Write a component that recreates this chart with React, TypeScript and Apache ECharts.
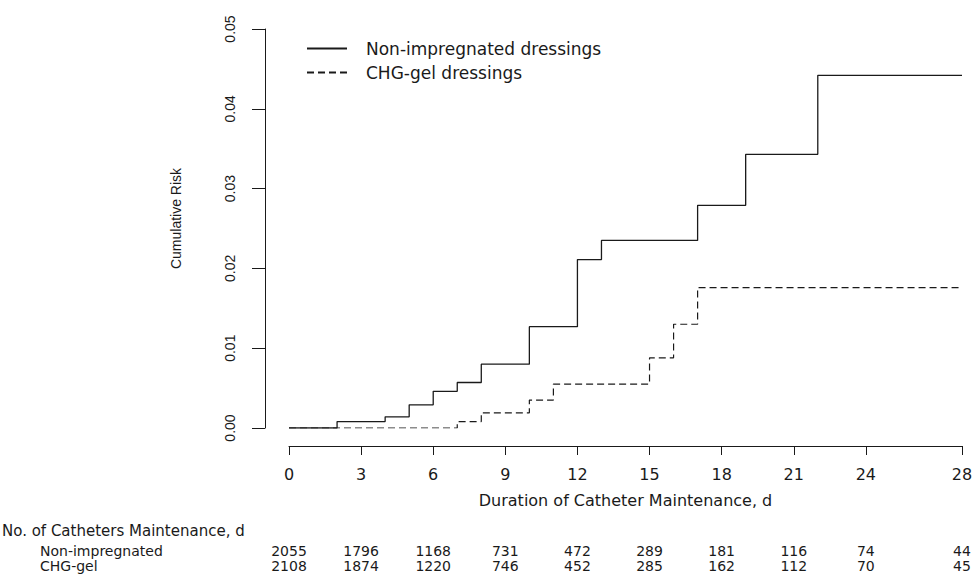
import React, { useEffect, useRef } from "react";
import * as echarts from "echarts";

// ---- data ----
const tickDays = [0, 3, 6, 9, 12, 15, 18, 21, 24, 28];
const nonDays = [0, 2, 4, 5, 6, 7, 8, 10, 12, 13, 17, 19, 22, 28];
const nonRisk = [0, 0.0008, 0.0014, 0.0029, 0.0046, 0.0057, 0.008, 0.0127, 0.0211, 0.0235, 0.0279, 0.0343, 0.0442, 0.0442];
const chgDays = [0, 7, 8, 10, 11, 15, 16, 17, 28];
const chgRisk = [0, 0.0008, 0.0019, 0.0035, 0.0055, 0.0088, 0.013, 0.0176, 0.0176];
const nonAtRisk = [2055, 1796, 1168, 731, 472, 289, 181, 116, 74, 44];
const chgAtRisk = [2108, 1874, 1220, 746, 452, 285, 162, 112, 70, 45];
const seriesNames = ["Non-impregnated dressings", "CHG-gel dressings"];
const rowLabels = ["Non-impregnated", "CHG-gel"];
const tableTitle = "No. of Catheters Maintenance, d";
const xTitle = "Duration of Catheter Maintenance, d";
const yTitle = "Cumulative Risk";

const WIDE = "DejaVu Sans, Liberation Sans, Arial, sans-serif";
const NARROW = "Liberation Sans, Arial, Helvetica, sans-serif";
const INK = "#1a1a1a";

export default function App() {
  const ref = useRef<HTMLDivElement>(null);

  useEffect(() => {
    if (!ref.current) return;
    const chart = echarts.init(ref.current, undefined, { renderer: "svg" });

    const countAxis = (counts: number[], margin: number) => ({
      type: "value",
      gridIndex: 0,
      min: 0,
      max: 28,
      position: "bottom",
      offset: 0,
      axisLine: { show: false, onZero: false },
      axisTick: { show: false },
      splitLine: { show: false },
      axisLabel: {
        show: true,
        customValues: tickDays,
        margin,
        color: INK,
        fontSize: 14,
        lineHeight: 14,
        fontFamily: WIDE,
        formatter: (v: number) => {
          const i = tickDays.indexOf(v);
          return i >= 0 ? String(counts[i]) : "";
        },
      },
    });

    chart.setOption({
      animation: false,
      backgroundColor: "#ffffff",
      textStyle: { fontFamily: WIDE },
      grid: {
        left: 289,
        right: 14,
        top: 29,
        bottom: 146,
        containLabel: false,
        outerBoundsMode: "none",
      },
      legend: {
        orient: "vertical",
        left: 301,
        top: 35,
        itemWidth: 40,
        itemHeight: 14,
        itemGap: 7,
        data: seriesNames,
        itemStyle: { opacity: 0 },
        textStyle: { color: INK, fontSize: 17, fontFamily: WIDE, padding: [0, 0, 0, 14] },
      },
      xAxis: [
        {
          type: "value",
          gridIndex: 0,
          min: 0,
          max: 28,
          position: "bottom",
          offset: 18,
          axisLine: { show: true, onZero: false, lineStyle: { color: INK, width: 1 } },
          axisTick: { show: true, length: 9, customValues: tickDays, lineStyle: { color: INK, width: 1 } },
          axisLabel: { customValues: tickDays, margin: 20, color: INK, fontSize: 16, fontFamily: WIDE },
          splitLine: { show: false },
          name: xTitle,
          nameLocation: "middle",
          nameGap: 46,
          nameMoveOverlap: false,
          nameTextStyle: { color: INK, fontSize: 16, fontFamily: WIDE },
        },
        countAxis(nonAtRisk, 116),
        countAxis(chgAtRisk, 131),
      ],
      yAxis: {
        type: "value",
        min: 0,
        max: 0.05,
        interval: 0.01,
        offset: 24,
        axisLine: { show: true, onZero: false, lineStyle: { color: INK, width: 1 } },
        axisTick: { show: true, length: 13, lineStyle: { color: INK, width: 1 } },
        axisLabel: {
          rotate: 90,
          margin: 28,
          color: INK,
          fontSize: 14,
          fontFamily: NARROW,
          formatter: (v: number) => v.toFixed(2),
        },
        splitLine: { show: false },
        name: yTitle,
        nameLocation: "middle",
        nameRotate: 90,
        nameGap: 82,
        nameMoveOverlap: false,
        nameTextStyle: { color: INK, fontSize: 14, fontFamily: NARROW, padding: [0, 0, 0, 20] },
      },
      series: [
        {
          type: "line",
          name: seriesNames[1],
          xAxisIndex: 0,
          yAxisIndex: 0,
          step: "end",
          symbol: "none",
          z: 2,
          color: INK,
          lineStyle: { color: INK, width: 1.2, type: [7, 4] },
          data: chgDays.map((d, i) => [d, chgRisk[i]]),
        },
        {
          type: "line",
          name: seriesNames[0],
          xAxisIndex: 0,
          yAxisIndex: 0,
          step: "end",
          symbol: "none",
          z: 3,
          color: INK,
          lineStyle: { color: INK, width: 1.3, type: "solid" },
          data: nonDays.map((d, i) => [d, nonRisk[i]]),
        },
      ],
      graphic: [
        {
          type: "text",
          left: 2,
          top: 523,
          style: { text: tableTitle, fill: INK, fontSize: 15, lineHeight: 15, fontFamily: WIDE },
        },
        {
          type: "text",
          left: 40,
          top: 544,
          style: { text: rowLabels[0], fill: INK, fontSize: 14, lineHeight: 14, fontFamily: WIDE },
        },
        {
          type: "text",
          left: 40,
          top: 559,
          style: { text: rowLabels[1], fill: INK, fontSize: 14, lineHeight: 14, fontFamily: WIDE },
        },
      ],
    });

    return () => chart.dispose();
  }, []);

  return <div ref={ref} style={{ width: 976, height: 574, position: "absolute", left: 0, top: 0 }} />;
}
